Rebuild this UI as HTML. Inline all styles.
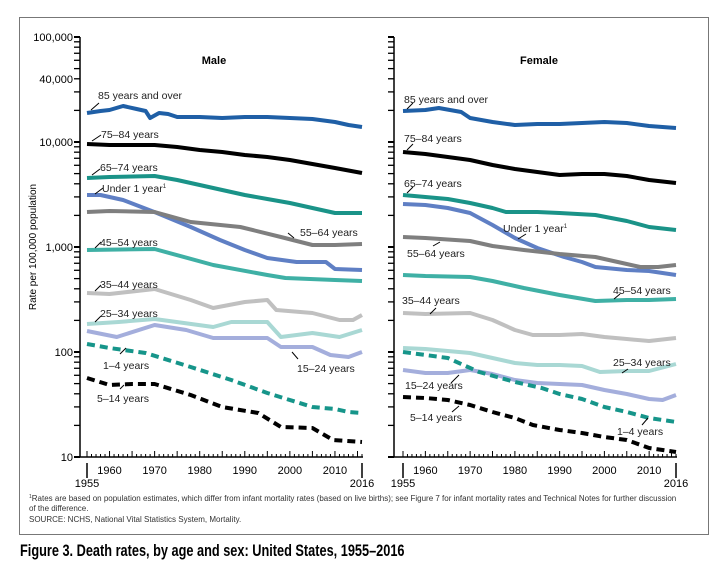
<!DOCTYPE html>
<html><head><meta charset="utf-8"><style>
body{margin:0;background:#fff;width:720px;height:562px;overflow:hidden;font-family:"Liberation Sans",sans-serif}
svg text{font-family:"Liberation Sans",sans-serif}
</style></head><body>
<svg id="s" width="720" height="562" xmlns="http://www.w3.org/2000/svg">
<rect x="19.5" y="17.5" width="689" height="517" fill="none" stroke="#777" stroke-width="1"/>
<g id="g"></g>
<text x="214" y="64" font-size="11" font-weight="bold" text-anchor="middle">Male</text>
<text x="539" y="64" font-size="11" font-weight="bold" text-anchor="middle">Female</text>
<text transform="translate(36,247) rotate(-90)" font-size="10" text-anchor="middle">Rate per 100,000 population</text>
<g font-size="11" text-anchor="end">
<text x="73" y="41">100,000</text><text x="73" y="83">40,000</text><text x="73" y="146">10,000</text>
<text x="73" y="251">1,000</text><text x="73" y="356">100</text><text x="73" y="461">10</text>
</g>
<g font-size="10.5" fill="#222">
<text x="98" y="99">85 years and over</text><text x="101" y="138">75–84 years</text>
<text x="100" y="171">65–74 years</text><text x="102" y="192">Under 1 year<tspan font-size="6" dy="-4">1</tspan></text>
<text x="300" y="236">55–64 years</text><text x="100" y="246">45–54 years</text>
<text x="100" y="288">35–44 years</text><text x="100" y="317">25–34 years</text>
<text x="103" y="369">1–4 years</text><text x="297" y="372">15–24 years</text>
<text x="97" y="402">5–14 years</text>
<text x="404" y="103">85 years and over</text><text x="404" y="142">75–84 years</text>
<text x="404" y="187">65–74 years</text><text x="503" y="232">Under 1 year<tspan font-size="6" dy="-4">1</tspan></text>
<text x="407" y="257">55–64 years</text><text x="613" y="294">45–54 years</text>
<text x="402" y="304">35–44 years</text><text x="613" y="366">25–34 years</text>
<text x="405" y="389">15–24 years</text><text x="410" y="421">5–14 years</text>
<text x="617" y="435">1–4 years</text>
</g>
<g font-size="8" fill="#333">
<text x="29" y="501"><tspan font-size="5" dy="-3">1</tspan><tspan dy="3">Rates are based on population estimates, which differ from infant mortality rates (based on live births); see Figure 7 for infant mortality rates and Technical Notes for further discussion</tspan></text>
<text x="29" y="511">of the difference.</text>
<text x="29" y="522">SOURCE: NCHS, National Vital Statistics System, Mortality.</text>
</g>
<text x="20" y="556" font-size="17" font-weight="bold" font-family="'Liberation Sans Narrow','Liberation Sans',sans-serif" transform="translate(20,0) scale(0.75,1) translate(-20,0)">Figure 3. Death rates, by age and sex: United States, 1955–2016</text>
</svg>
<script>
var g=document.getElementById('g'),h='';
function L(x1,y1,x2,y2,w){h+='<line x1="'+x1+'" y1="'+y1+'" x2="'+x2+'" y2="'+y2+'" stroke="#000" stroke-width="'+(w||1)+'"/>';}
function axes(ax,x0,x1){
 L(ax,37,ax,457,1.5);L(ax,457,x1+1,457,1.5);
 for(var d=0;d<4;d++){for(var k=1;k<=10;k++){var y=457-105*(d+Math.log10(k));L(ax-6,y,ax,y,k==1||k==10?2:1.3);}}
 for(var yr=1955;yr<=2016;yr++){var x=x0+(x1-x0)*(yr-1955)/61;L(x,457,x,yr%5==0?451:454,1);}
 L(x0,463,x0,478,1.5);L(x1,463,x1,478,1.5);
 h+='<g font-size="11" text-anchor="middle">';
 for(var yr=1960;yr<=2010;yr+=10){var x=x0+(x1-x0)*(yr-1955)/61;h+='<text x="'+x+'" y="474">'+yr+'</text>';}
 h+='<text x="'+x0+'" y="487">1955</text><text x="'+x1+'" y="487">2016</text></g>';
}
axes(80,87,362);axes(394,403,676);
function S(x0,x1,pts,c,dash){var d='';for(var i=0;i<pts.length;i+=2){var x=x0+(x1-x0)*(pts[i]-1955)/61;d+=(i?'L':'M')+x.toFixed(1)+' '+pts[i+1];}
 h+='<path d="'+d+'" fill="none" stroke="'+c+'" stroke-width="4" stroke-linejoin="round"'+(dash?' stroke-dasharray="8,5"':'')+'/>';}
var M=[
[[1955,113,1958,111,1960,110,1963,106,1966,109,1968,111,1969,118,1971,113,1973,114,1975,117,1980,117,1985,118,1990,117,1995,117,2000,118,2005,119,2010,122,2013,125,2016,127],'#1f5fa6'],
[[1955,144,1960,145,1970,145,1975,147,1980,150,1985,152,1990,155,1995,157,2000,160,2005,164,2010,168,2016,173],'#000'],
[[1955,178,1960,177,1970,176,1975,180,1980,185,1985,190,1990,195,1995,199,2000,203,2005,208,2010,213,2016,213],'#1a9388'],
[[1955,195,1958,195,1963,200,1970.5,213,1978,227,1984.5,240,1990,250,1995,258,2001.5,262,2008,262,2010,269,2016,270],'#5f7fc4'],
[[1955,212,1960,211,1970,212,1978,222,1989,227,1998,237,2005,245,2010,245,2016,244],'#7f7f7f'],
[[1955,250,1970,249,1983,265,1995,275,1999,278,2010,280,2016,281],'#3fb0a5'],
[[1955,293,1960,294,1970,289,1978,300,1983,308,1990,302,1995,300,1997,310,2005,313,2011,320,2014,320,2016,315],'#c0c0c0'],
[[1955,324,1962,322,1970,319,1983,327,1987,322,1995,322,1998,337,2005,333,2011,337,2016,330],'#a9d8d4'],
[[1955,331,1961.6,337,1970,325,1977,330,1983,338,1995,338,1998,347,2005,347,2009,355,2013,357,2016,352],'#a4aedc'],
[[1955,344,1960,348,1968,353,1978,367,1987,380,1995,393,2005,407,2010,409,2013,412,2016,413],'#16958a',1],
[[1955,378,1960,385,1965,384,1970,384,1978,395,1985,407,1993,413,1998,427,2005,428,2009.6,440,2016,442],'#000',1]];
var F=[
[[1955,111,1960,110,1963,108,1968,112,1970,118,1975,122,1980,125,1985,124,1990,124,1995,123,2000,122,2005,123,2010,126,2016,128],'#1f5fa6'],
[[1955,152,1960,154,1965,157,1970,160,1975,165,1980,169,1985,172,1990,175,1995,174,2000,174,2005,176,2010,180,2016,183],'#000'],
[[1955,195,1960,197,1965,199,1970,203,1975,208,1978,212,1985,212,1990,213,1998,215,2005,221,2010,227,2016,230],'#1a9388'],
[[1955,204,1960,205,1965,208,1970,213,1975,225,1980,238,1985,248,1991,257,1995,262,1998,267,2005,270,2010,271,2016,275],'#5f7fc4'],
[[1955,237,1960,238,1970,241,1975,246,1982,250,1990,254,1998,257,2003,262,2008,267,2012,267,2016,265],'#7f7f7f'],
[[1955,275,1960,276,1970,277,1975,281,1982,288,1990,295,1998,301,2005,300,2010,300,2016,299],'#3fb0a5'],
[[1955,313,1960,314,1970,313,1975,320,1980,330,1984,335,1990,335,1995,334,2000,337,2005,339,2010,341,2016,338],'#c0c0c0'],
[[1955,348,1960,349,1970,353,1975,358,1980,363,1985,365,1990,365,1995,366,1999,372,2005,371,2010,371,2016,364],'#a9d8d4'],
[[1955,370,1960,373,1965,373,1970,370,1975,374,1980,380,1985,383,1990,384,1995,385,2000,390,2005,394,2010,399,2013,400,2016,395],'#a4aedc'],
[[1955,352,1960,355,1965,358,1972,372,1980,382,1986,388,1990,394,1995,399,2000,407,2005,412,2010,418,2016,422],'#16958a',1],
[[1955,397,1960,398,1965,400,1970,405,1975,412,1980,418,1984,425,1990,430,1995,433,2000,437,2005,440,2010,448,2016,452],'#000',1]];
M.forEach(function(s){S(87,362,s[0],s[1],s[2]);});
F.forEach(function(s){S(403,676,s[0],s[1],s[2]);});
[[91,110,99,103],[92,141,101,135],[92,175,100,169],[95,194,103,188],[294,238,288,233],[95,248,101,242],[95,291,101,285],[95,322,101,316],[120,354,126,348],[292,352,298,359],[120,389,124,385],
 [407,109,413,103],[407,150,413,144],[407,193,413,187],[518,239,526,234],[440,242,433,246],[614,299,620,294],[430,314,436,308],[628,369,622,373],[459,375,451,383],[459,406,452,412],[642,425,648,418]].forEach(function(a){L(a[0],a[1],a[2],a[3],1);});
g.innerHTML=h;
</script>
</body></html>
